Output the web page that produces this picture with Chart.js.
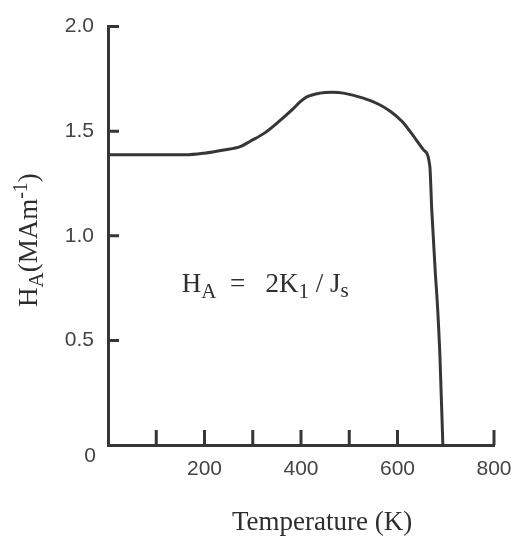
<!DOCTYPE html>
<html lang="en">
<head>
  <meta charset="UTF-8" />
  <title>Anisotropy field vs temperature</title>
  <script src="https://cdn.jsdelivr.net/npm/chart.js"></script>
  <style>
    body {
      margin: 0;
      padding: 0;
      background: #ffffff;
    }
    .wrap {
      width: 511px;
      height: 539px;
      position: relative;
    }
  </style>
</head>
<body>
  <div class="wrap">
    <canvas id="haChart"></canvas>
  </div>

  <script>
    // curve: temperature (K) and H_A (MAm^-1)
    const temps = [0, 160, 200, 240, 274, 294, 325, 355, 384, 398, 412, 439, 465, 488, 529, 560, 585, 610, 626, 654, 667, 671, 678, 683, 688, 694];
    const haValues = [1.387, 1.387, 1.395, 1.41, 1.426, 1.451, 1.492, 1.548, 1.608, 1.640, 1.664, 1.682, 1.686, 1.682, 1.658, 1.63, 1.595, 1.545, 1.499, 1.411, 1.332, 1.124, 0.837, 0.66, 0.42, 0];

    // inward tick marks and labelled ticks
    const xTickMarks = [100, 200, 300, 400, 500, 600, 800];
    const yTickMarks = [0.5, 1.0, 1.5, 2.0];
    const xLabelStep = 200;
    const yLabelStep = 0.5;

    const ink = '#363636';
    const labelColor = '#444444';
    const serif = '"Liberation Serif", "DejaVu Serif", serif';
    const sans = '"Liberation Sans", Arial, sans-serif';

    // draws text pieces one after another, subscripts / superscripts shifted
    function richText(ctx, x, y, parts) {
      let cx = x;
      parts.forEach(p => {
        ctx.font = p.size + 'px ' + serif;
        ctx.fillText(p.t, cx, y + (p.dy || 0));
        cx += ctx.measureText(p.t).width;
      });
    }

    const decorPlugin = {
      id: 'decor',
      afterDatasetsDraw(chart) {
        const ctx = chart.ctx;
        const xs = chart.scales.x;
        const ys = chart.scales.y;
        const area = chart.chartArea;
        ctx.save();

        // tick marks pointing into the plot
        ctx.strokeStyle = ink;
        ctx.lineWidth = 3;
        ctx.beginPath();
        yTickMarks.forEach(v => {
          const py = ys.getPixelForValue(v);
          ctx.moveTo(area.left, py);
          ctx.lineTo(area.left + 11, py);
        });
        xTickMarks.forEach(v => {
          const px = xs.getPixelForValue(v);
          ctx.moveTo(px, area.bottom);
          ctx.lineTo(px, area.bottom - 15);
        });
        ctx.stroke();

        // shared zero at the corner
        ctx.fillStyle = labelColor;
        ctx.font = '21px ' + sans;
        ctx.textAlign = 'center';
        ctx.textBaseline = 'middle';
        ctx.fillText('0', area.left - 18, area.bottom + 11);

        ctx.fillStyle = '#2e2e2e';
        ctx.textAlign = 'left';
        ctx.textBaseline = 'alphabetic';

        // formula inside the plot
        richText(ctx, xs.getPixelForValue(153), ys.getPixelForValue(0.73), [
          { t: 'H', size: 27 },
          { t: 'A', size: 21, dy: 6 },
          { t: '  =   2K', size: 27 },
          { t: '1', size: 21, dy: 6 },
          { t: ' / J', size: 27 },
          { t: 's', size: 21, dy: 5 }
        ]);

        // x title
        ctx.font = '27px ' + serif;
        ctx.fillText('Temperature (K)', 232, 530);

        // y title, rotated
        ctx.translate(37, 307);
        ctx.rotate(-Math.PI / 2);
        richText(ctx, 0, 0, [
          { t: 'H', size: 27 },
          { t: 'A', size: 21, dy: 6 },
          { t: '(MAm', size: 27 },
          { t: '-1', size: 20, dy: -10 },
          { t: ')', size: 27 }
        ]);

        ctx.restore();
      }
    };

    new Chart(document.getElementById('haChart').getContext('2d'), {
      type: 'line',
      data: {
        datasets: [{
          data: temps.map((t, i) => ({ x: t, y: haValues[i] })),
          borderColor: ink,
          borderWidth: 3,
          pointRadius: 0,
          fill: false,
          cubicInterpolationMode: 'monotone'
        }]
      },
      options: {
        responsive: true,
        maintainAspectRatio: false,
        animation: false,
        layout: { padding: { top: 26, right: 17, left: 0, bottom: 0 } },
        plugins: {
          legend: { display: false },
          tooltip: { enabled: false }
        },
        scales: {
          x: {
            type: 'linear',
            min: 0,
            max: 800,
            grid: { display: false, drawTicks: false },
            border: { display: true, color: ink, width: 3 },
            ticks: {
              stepSize: xLabelStep,
              padding: 12,
              color: labelColor,
              font: { family: sans, size: 21 },
              callback: v => (v === 0 ? '' : String(v))
            },
            afterFit: s => {
              s.height = 94;
              s.paddingLeft = 0;
              s.paddingRight = 0;
            }
          },
          y: {
            min: 0,
            max: 2,
            grid: { display: false, drawTicks: false },
            border: { display: true, color: ink, width: 3 },
            ticks: {
              stepSize: yLabelStep,
              padding: 14,
              color: labelColor,
              font: { family: sans, size: 21 },
              callback: v => (v === 0 ? '' : v.toFixed(1))
            },
            afterFit: s => { s.width = 108; }
          }
        }
      },
      plugins: [decorPlugin]
    });
  </script>
</body>
</html>
